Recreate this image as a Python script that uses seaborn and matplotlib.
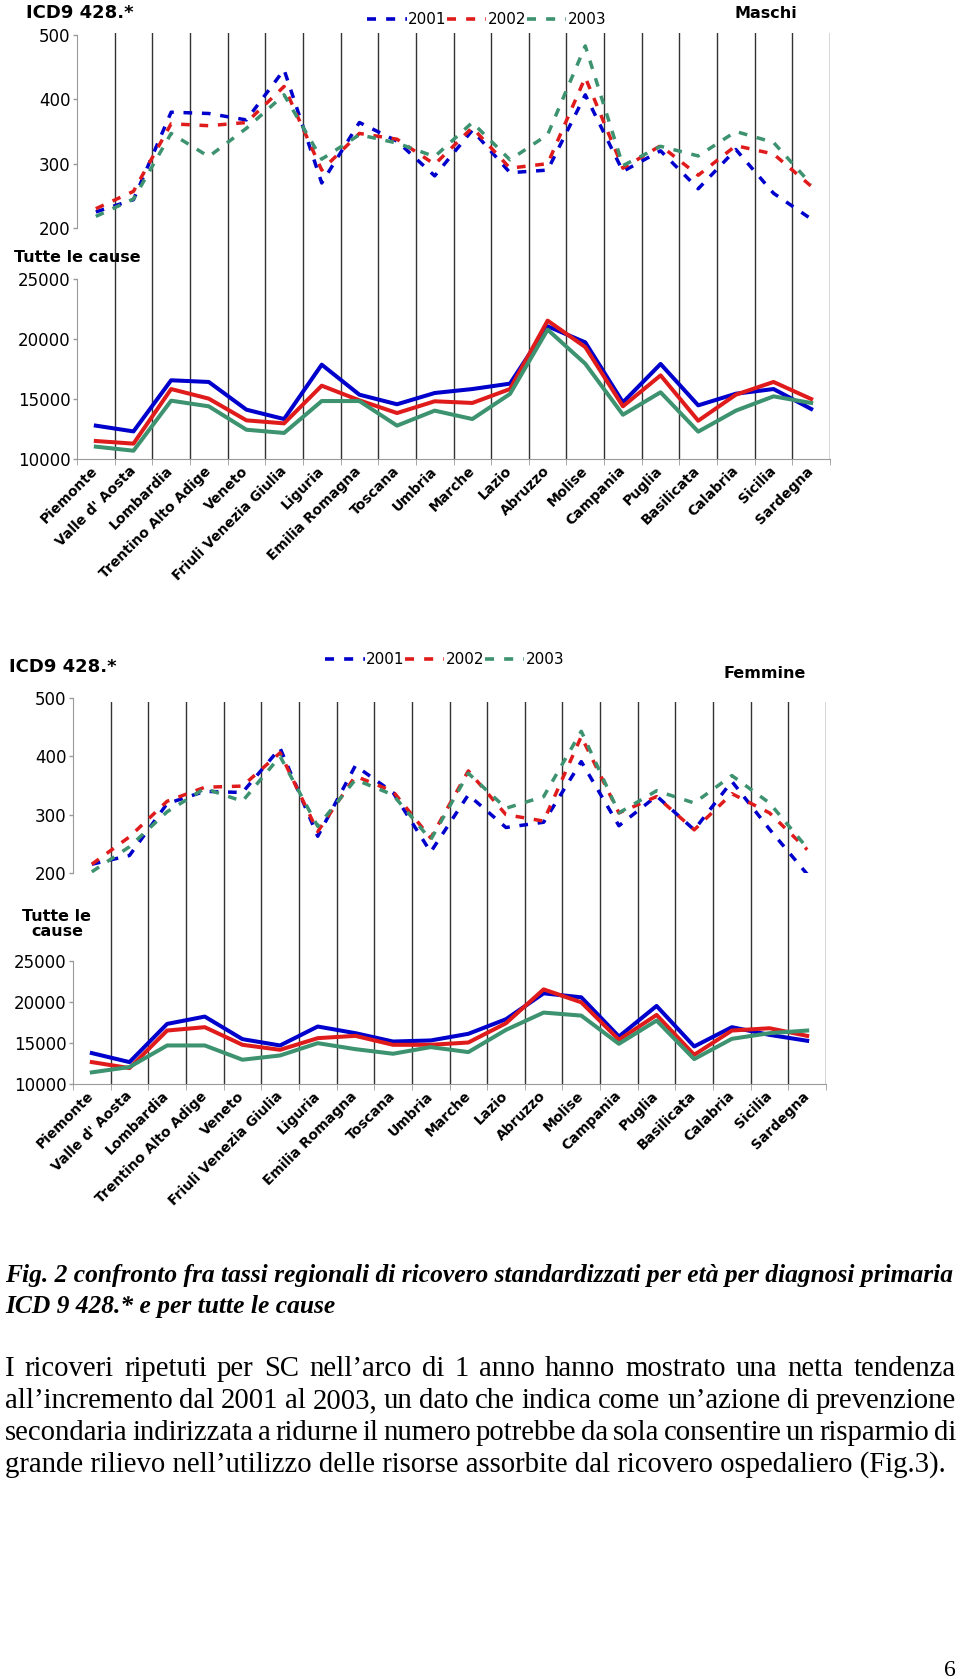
import numpy as np
import pandas as pd
import matplotlib
matplotlib.use('Agg')
import matplotlib.pyplot as plt
import seaborn as sns
from matplotlib.lines import Line2D

regioni = ['Piemonte', "Valle d' Aosta", 'Lombardia', 'Trentino Alto Adige', 'Veneto',
           'Friuli Venezia Giulia', 'Liguria', 'Emilia Romagna', 'Toscana', 'Umbria',
           'Marche', 'Lazio', 'Abruzzo', 'Molise', 'Campania', 'Puglia', 'Basilicata',
           'Calabria', 'Sicilia', 'Sardegna']
anni = ['2001', '2002', '2003']

# Maschi - ICD9 428.*
m_icd_2001 = [225, 244, 380, 378, 368, 446, 270, 364, 335, 281, 352, 286, 290, 407, 288, 320, 261, 322, 254, 214]
m_icd_2002 = [230, 257, 362, 359, 364, 420, 290, 347, 338, 299, 356, 293, 300, 434, 293, 328, 282, 328, 315, 265]
m_icd_2003 = [218, 245, 347, 311, 355, 407, 307, 345, 332, 311, 364, 306, 345, 483, 297, 327, 312, 350, 333, 268]

# Maschi - tutte le cause
m_tot_2001 = [12780, 12300, 16560, 16420, 14110, 13330, 17860, 15360, 14560, 15500,
              15830, 16280, 21060, 19720, 14720, 17920, 14470, 15440, 15830, 14170]
m_tot_2002 = [11500, 11280, 15830, 15030, 13220, 12970, 16110, 14890, 13830, 14810,
              14670, 15830, 21530, 19330, 14390, 16970, 13190, 15360, 16420, 15000]
m_tot_2003 = [11030, 10690, 14860, 14390, 12440, 12170, 14830, 14830, 12780, 14030,
              13330, 15420, 20780, 17940, 13690, 15560, 12280, 14030, 15220, 14670]

# Femmine - ICD9 428.*
f_icd_2001 = [215, 230, 319, 340, 338, 414, 263, 384, 338, 236, 334, 278, 287, 391, 281, 332, 274, 357, 275, 198]
f_icd_2002 = [215, 262, 323, 347, 349, 406, 271, 366, 340, 260, 375, 300, 289, 434, 303, 331, 274, 336, 303, 240]
f_icd_2003 = [202, 245, 305, 345, 323, 400, 280, 360, 334, 257, 371, 311, 331, 443, 303, 341, 320, 367, 320, 243]

# Femmine - tutte le cause
f_tot_2001 = [13770, 12670, 17330, 18220, 15470, 14700, 17010, 16200, 15180, 15310,
              16120, 17900, 21060, 20570, 15790, 19520, 14580, 16930, 15990, 15270]
f_tot_2002 = [12670, 11940, 16520, 16930, 14780, 14170, 15590, 15870, 14780, 14780,
              15060, 17410, 21540, 19960, 15390, 18420, 13560, 16520, 16800, 15870]
f_tot_2003 = [11420, 12070, 14700, 14700, 12960, 13480, 14980, 14250, 13690, 14500,
              13890, 16600, 18710, 18340, 14900, 17740, 13040, 15510, 16200, 16520]

didascalia = ['Fig. 2 confronto fra tassi regionali di ricovero standardizzati per età per diagnosi primaria',
              'ICD 9 428.* e per tutte le cause']
testo = ['I ricoveri ripetuti per SC nell’arco di 1 anno hanno mostrato una netta tendenza',
         'all’incremento dal 2001 al 2003, un dato che indica come un’azione di prevenzione',
         'secondaria indirizzata a ridurne il numero potrebbe da sola consentire un risparmio di',
         'grande rilievo nell’utilizzo delle risorse assorbite dal ricovero ospedaliero (Fig.3).']

colori = {'2001': '#0000CC', '2002': '#E01B1B', '2003': '#3D9270'}
GRIGIO = '#9a9a9a'
TRATTO = (2.5, 2.8)

plt.rcParams['font.family'] = ['DejaVu Sans']

W, H = 960, 1679
fig = plt.figure(figsize=(W / 100, H / 100), dpi=100)
fig.patch.set_facecolor('white')


def box(x0, y0, x1, y1):
    # pixel box (y from the top) -> figure fraction
    return [x0 / W, 1 - y1 / H, (x1 - x0) / W, (y1 - y0) / H]


def linee_verticali(x0, y0, x1, y1):
    ax = fig.add_axes(box(x0, y0, x1, y1), zorder=0)
    ax.set_xlim(-0.5, len(regioni) - 0.5)
    ax.axis('off')
    for k in np.arange(0.5, len(regioni)):
        ax.axvline(k, color='#333333', lw=1.0)


def pannello(x0, y0, x1, y1, serie, ylim, yticks, tratteggio, etichette):
    ax = fig.add_axes(box(x0, y0, x1, y1), zorder=1)
    ax.patch.set_alpha(0)
    df = pd.DataFrame({
        'regione': regioni * len(anni),
        'anno': np.repeat(anni, len(regioni)),
        'valore': np.concatenate(serie),
    })
    kw = dict(data=df, x='regione', y='valore', hue='anno', palette=colori,
              legend=False, ax=ax, sort=False)
    if tratteggio:
        sns.lineplot(style='anno', dashes={a: TRATTO for a in anni}, linewidth=2.5, **kw)
    else:
        sns.lineplot(linewidth=2.9, **kw)

    ax.set_xlim(-0.5, len(regioni) - 0.5)
    ax.set_ylim(ylim)
    ax.set_yticks(yticks)
    ax.set_xlabel('')
    ax.set_ylabel('')
    ax.spines[['top', 'right']].set_visible(False)
    ax.spines['left'].set_color(GRIGIO)
    ax.tick_params(axis='y', length=3, width=1, color=GRIGIO, labelsize=12, pad=1.5)
    if etichette:
        ax.spines['bottom'].set_color(GRIGIO)
        ax.set_xticks(range(len(regioni)))
        ax.set_xticklabels(regioni, rotation=45, ha='right', va='center',
                           rotation_mode='anchor', fontsize=10, fontweight='bold')
        ax.set_xticks(np.arange(-0.5, len(regioni)), minor=True)
        ax.tick_params(axis='x', which='major', length=0, pad=7)
        ax.tick_params(axis='x', which='minor', length=4, color=GRIGIO)
    else:
        ax.spines['bottom'].set_visible(False)
        ax.set_xticks([])
    return ax


def legenda(x, y):
    maniglie = [Line2D([], [], color=colori[a], lw=2.6, dashes=TRATTO) for a in anni]
    fig.legend(maniglie, anni, loc='center left', bbox_to_anchor=(x / W, 1 - y / H), ncol=3,
               frameon=False, fontsize=11, handlelength=2.6, handletextpad=0.1,
               columnspacing=0.0, borderpad=0, borderaxespad=0)


def scritta(x, y, s, **kw):
    fig.text(x / W, 1 - y / H, s, ha='center', va='center', **kw)


# ---- Maschi ----
linee_verticali(77, 33, 830, 459)
pannello(77, 35, 830, 228, [m_icd_2001, m_icd_2002, m_icd_2003], (200, 500), [200, 300, 400, 500], True, False)
pannello(77, 279, 830, 459, [m_tot_2001, m_tot_2002, m_tot_2003], (10000, 25000),
         [10000, 15000, 20000, 25000], False, True)
scritta(80, 13, 'ICD9 428.*', fontsize=13, fontweight='bold')
scritta(766, 13, 'Maschi', fontsize=11.5, fontweight='bold')
scritta(77, 257, 'Tutte le cause', fontsize=11.5, fontweight='bold')
legenda(367, 20)

# ---- Femmine ----
linee_verticali(73, 702, 826, 1084)
pannello(73, 698, 826, 873, [f_icd_2001, f_icd_2002, f_icd_2003], (200, 500), [200, 300, 400, 500], True, False)
pannello(73, 961, 826, 1084, [f_tot_2001, f_tot_2002, f_tot_2003], (10000, 25000),
         [10000, 15000, 20000, 25000], False, True)
scritta(63, 667, 'ICD9 428.*', fontsize=13, fontweight='bold')
scritta(765, 674, 'Femmine', fontsize=11.5, fontweight='bold')
scritta(57, 924, 'Tutte le\ncause', fontsize=11.5, fontweight='bold', linespacing=1.0)
legenda(325, 660)

# ---- testo della pagina ----
r = fig.canvas.get_renderer()


def adatta(riga, larghezza, **kw):
    t = fig.text(0, 0, riga, fontsize=10, **kw)
    w = t.get_window_extent(r).width
    t.remove()
    return 10 * larghezza / w


def giustificata(riga, x0, y, larghezza, **kw):
    parole = [fig.text(0, 1 - y / H, p, va='baseline', **kw) for p in riga.split(' ')]
    misure = [p.get_window_extent(r).width for p in parole]
    spazio = (larghezza - sum(misure)) / (len(parole) - 1)
    x = x0
    for p, w in zip(parole, misure):
        p.set_x(x / W)
        x += w + spazio


stile_cap = dict(family='Liberation Serif', style='italic', weight='bold')
fs_cap = adatta(didascalia[0], 951, **stile_cap)
fig.text(5 / W, 1 - 1282 / H, didascalia[0], va='baseline', fontsize=fs_cap, **stile_cap)
fig.text(5 / W, 1 - 1313 / H, didascalia[1], va='baseline', fontsize=fs_cap, **stile_cap)

fs_testo = adatta(testo[3], 940, family='Liberation Serif')
for i, riga in enumerate(testo[:3]):
    giustificata(riga, 5, 1376 + 32 * i, 951, family='Liberation Serif', fontsize=fs_testo)
fig.text(5 / W, 1 - 1472 / H, testo[3], va='baseline', family='Liberation Serif', fontsize=fs_testo)

fig.text(950 / W, 1 - 1676 / H, '6', ha='center', va='baseline', family='Liberation Serif', fontsize=17)

fig.savefig('out.png', dpi=100, facecolor='white')
